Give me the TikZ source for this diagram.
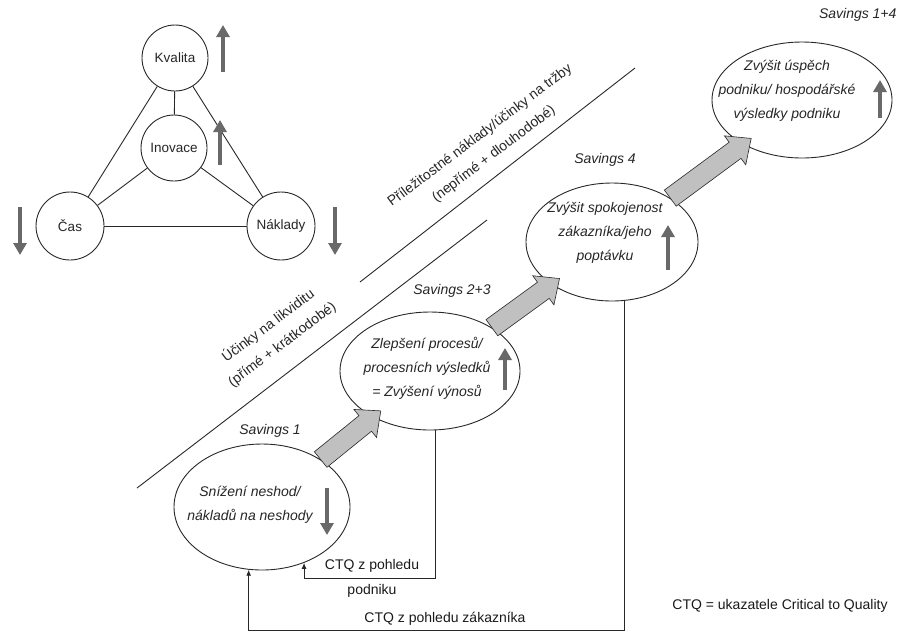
\documentclass[tikz,border=0pt]{standalone}
\usepackage{fontspec}
\setmainfont{Liberation Sans}
\usetikzlibrary{shapes.geometric,arrows.meta,calc}
\definecolor{arrgray}{RGB}{105,105,105}
\definecolor{fatgray}{RGB}{192,192,192}
\definecolor{inkline}{RGB}{40,40,40}
\tikzstyle{mycircle} = [draw=inkline, line width=0.9pt, circle, minimum size=66pt,
    inner sep=0pt, fill=white, font=\fontsize{13.5}{16}\selectfont, text=black!85]
\tikzstyle{myellipse} = [draw=inkline, line width=0.9pt, ellipse, inner sep=0pt, fill=white]
\tikzstyle{elltext} = [font=\fontsize{14}{24}\selectfont\itshape, align=center, text=black!85]
\tikzstyle{savlabel} = [font=\fontsize{14}{17}\selectfont\itshape, text=black!85]
\tikzstyle{slanttext} = [font=\fontsize{14}{23}\selectfont, align=center, text=black!85, rotate=37]
\tikzstyle{plaintext} = [font=\fontsize{14}{17}\selectfont, text=black!90]
\tikzstyle{updown} = [draw=arrgray, line width=3.6pt, -{Triangle[length=12pt,width=13pt]}]
\tikzstyle{fatarrow} = [draw=inkline, line width=0.6pt, fill=fatgray]
\tikzstyle{fbline} = [draw=inkline, line width=0.9pt, -{Latex[length=6pt,width=5pt]}]

% #1 start, #2 tip, #3 name of the neck coordinate
\newcommand{\savingsarrow}[3]{%
  \coordinate (#3) at ($(#2)!20pt!(#1)$);
  \draw[fatarrow] ($(#1)!10pt!90:(#2)$) -- ($(#3)!10pt!90:(#2)$) -- ($(#3)!18pt!90:(#2)$)
    -- (#2) -- ($(#3)!18pt!-90:(#2)$) -- ($(#3)!10pt!-90:(#2)$) -- ($(#1)!10pt!-90:(#2)$) -- cycle;}

\begin{document}
\begin{tikzpicture}[x=1pt,y=-1pt]
\useasboundingbox (0,0) rectangle (901,633);

% triangle
\node[mycircle] (kval) at (175,58) {Kvalita};
\node[mycircle] (inov) at (174,148) {Inovace};
\node[mycircle, minimum size=68pt] (cas) at (70,226) {Čas};
\node[mycircle, minimum size=68pt] (nakl) at (281,226) {Náklady};
\draw[inkline, line width=0.9pt] (kval) -- (inov);
\draw[inkline, line width=0.9pt] (kval) -- (cas);
\draw[inkline, line width=0.9pt] (kval) -- (nakl);
\draw[inkline, line width=0.9pt] (inov) -- (cas);
\draw[inkline, line width=0.9pt] (inov) -- (nakl);
\draw[inkline, line width=0.9pt] (cas) -- (nakl);
\draw[updown] ([shift={(48,14)}]kval.center) -- ++(0,-47);
\draw[updown] ([shift={(46,17)}]inov.center) -- ++(0,-45);
\draw[updown] ([shift={(-50,-19)}]cas.center) -- ++(0,48);
\draw[updown] ([shift={(54,-19)}]nakl.center) -- ++(0,48);

% dividing lines
\draw[inkline, line width=0.9pt] (137,488) -- (487,220);
\draw[inkline, line width=0.9pt] (360,282) -- (635,68);
\node[slanttext] (liq) at (275,335) {Účinky na likviditu\\(přímé + krátkodobé)};
\node[slanttext] (opp) at (487,145) {Příležitostné náklady/účinky na tržby\\(nepřímé + dlouhodobé)};

% savings steps
\node[myellipse, minimum width=176pt, minimum height=126pt] (e1) at (262,507) {};
\node[myellipse, minimum width=180pt, minimum height=118pt] (e2) at (430,371) {};
\node[myellipse, minimum width=172pt, minimum height=118pt] (e3) at (612,242) {};
\node[myellipse, minimum width=180pt, minimum height=116pt] (e4) at (802,100) {};
\node[elltext] (t1) at ([shift={(-12,-2)}]e1.center) {Snížení neshod/\\nákladů na neshody};
\node[elltext] (t2) at ([shift={(-3,-3)}]e2.center) {Zlepšení procesů/\\procesních výsledků\\= Zvýšení výnosů};
\node[elltext] (t3) at ([shift={(-7,-9)}]e3.center) {Zvýšit spokojenost\\zákazníka/jeho\\poptávku};
\node[elltext] (t4) at ([shift={(-15,-9)}]e4.center) {Zvýšit úspěch\\podniku/ hospodářské\\výsledky podniku};
\draw[updown] ([shift={(65,-19)}]e1.center) -- ++(0,47);
\draw[updown] ([shift={(75,19)}]e2.center) -- ++(0,-42);
\draw[updown] ([shift={(56,28)}]e3.center) -- ++(0,-45);
\draw[updown] ([shift={(78,18)}]e4.center) -- ++(0,-38);

\node[savlabel] (sav1) at (270,431) {Savings 1};
\node[savlabel] (sav23) at (452,291) {Savings 2+3};
\node[savlabel] (sav4) at (605,160) {Savings 4};
\node[savlabel, anchor=east] (sav14) at (900,15) {Savings 1+4};

\coordinate (tip1) at ($(e2.219)!-10pt!(e1.39)$);
\coordinate (tip2) at ($(e3.215)!-10pt!(e2.35)$);
\coordinate (tip3) at ($(e4.217)!-10pt!(e3.37)$);
\savingsarrow{e1.39}{tip1}{neck1}
\savingsarrow{e2.35}{tip2}{neck2}
\savingsarrow{e3.37}{tip3}{neck3}

% feedback
\coordinate (floor) at (0,630);
\node[plaintext, align=center, font=\fontsize{14}{25}\selectfont] (ctq1) at (372,578) {CTQ z pohledu\\podniku};
\node[plaintext] (ctq2) at (445,619) {CTQ z pohledu zákazníka};
\draw[fbline] (e2.-85) |- (e1.-53 |- ctq1.center) -- (e1.-53);
\draw[fbline] (e3.-78) |- (e1.-102 |- floor) -- (e1.-102);

\node[plaintext] (note) at (780,606) {CTQ = ukazatele Critical to Quality};
\end{tikzpicture}
\end{document}
